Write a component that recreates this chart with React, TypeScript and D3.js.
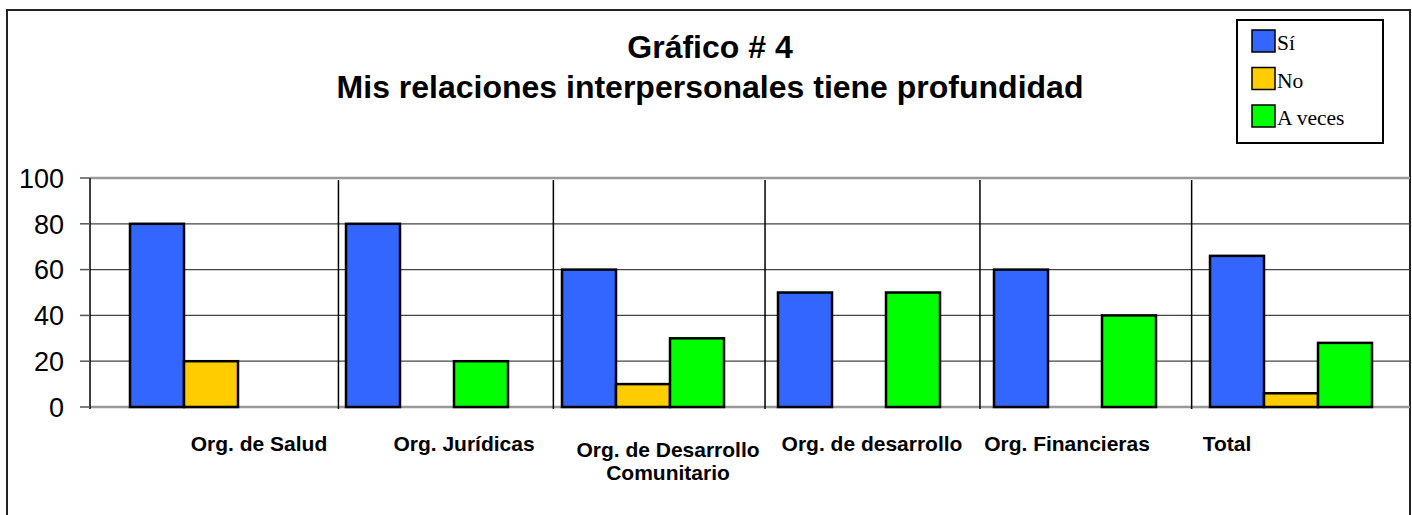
import React from 'react'
import * as d3 from 'd3'

const categories = ['Org. de Salud', 'Org. Jurídicas', 'Org. de Desarrollo Comunitario', 'Org. de desarrollo', 'Org. Financieras', 'Total']
const labelLines = [['Org. de Salud'], ['Org. Jurídicas'], ['Org. de Desarrollo', 'Comunitario'], ['Org. de desarrollo'], ['Org. Financieras'], ['Total']]
const seriesNames = ['Sí', 'No', 'A veces']
const si = [80, 80, 60, 50, 60, 66]
const no = [20, 0, 10, 0, 0, 6]
const aVeces = [0, 20, 30, 50, 40, 28]
const yTicks = [0, 20, 40, 60, 80, 100]
const titleLines = ['Gráfico # 4', 'Mis relaciones interpersonales tiene profundidad']

// hand drawn separators, in category units
const dividerAt = [1.09, 2.085, 3.065, 4.06, 5.04]
// label shift from the band centre
const labelNudge = [48, 37, 25, 13, -8, -64]

const colors = ['#3366ff', '#ffcc00', '#00ff00']

export default function App() {
  const width = 1412
  const height = 515
  const plotLeft = 90
  const plotRight = 1410
  const y0 = 407
  const y100 = 178

  const x0 = d3.scaleBand().domain(categories).range([103, 1399]).paddingInner(0).paddingOuter(0)
  const x1 = d3.scaleBand().domain(seriesNames).range([0, x0.bandwidth()]).paddingInner(0).paddingOuter(0.5)
  const y = d3.scaleLinear().domain([0, 100]).range([y0, y100])
  const xi = d3.scaleLinear().domain([0, 6]).range([103, 1399])

  const series = [si, no, aVeces]
  const sans = '"Liberation Sans", Arial, sans-serif'
  const serif = '"Liberation Serif", "Times New Roman", serif'

  return (
    <svg width={width} height={height} style={{ position: 'fixed', left: 0, top: 0, background: 'white' }}>
      {/* outer frame */}
      <rect x={7} y={10} width={1403} height={520} fill="white" stroke="#222" strokeWidth={2} />

      {/* title */}
      <g fontFamily={sans} fontWeight="bold" fontSize={32} textAnchor="middle" fill="black">
        <text x={710} y={58}>{titleLines[0]}</text>
        <text x={710} y={98}>{titleLines[1]}</text>
      </g>

      {/* grid */}
      {yTicks.map(t => (
        <line key={'g' + t} x1={plotLeft} x2={plotRight} y1={y(t)} y2={y(t)}
          stroke={t === 0 || t === 100 ? '#999' : '#444'} strokeWidth={t === 0 || t === 100 ? 2.5 : 1.2} />
      ))}

      {/* separators */}
      {dividerAt.map((d, i) => (
        <line key={'d' + i} x1={xi(d)} x2={xi(d)} y1={y100 + 2} y2={y0 + 2} stroke="black" strokeWidth={1.5} />
      ))}

      {/* bars */}
      {categories.map((c, ci) => (
        <g key={c} transform={`translate(${x0(c)},0)`}>
          {series.map((s, si2) => s[ci] > 0 ? (
            <rect key={si2} x={x1(seriesNames[si2])} y={y(s[ci])} width={x1.bandwidth()} height={y0 - y(s[ci])}
              fill={colors[si2]} stroke="black" strokeWidth={2.5} />
          ) : null)}
        </g>
      ))}

      {/* y axis */}
      <line x1={plotLeft} x2={plotLeft} y1={y100} y2={y0 + 2} stroke="black" strokeWidth={1.5} />
      {yTicks.map(t => (
        <g key={'t' + t}>
          <line x1={80} x2={plotLeft} y1={y(t)} y2={y(t)} stroke="#555" strokeWidth={1.5} />
          <text x={64} y={y(t)} dy="0.36em" textAnchor="end" fontFamily={sans} fontSize={27} fill="black">{t}</text>
        </g>
      ))}

      {/* category labels */}
      {categories.map((c, ci) => {
        const lines = labelLines[ci]
        const cx = (x0(c) as number) + x0.bandwidth() / 2 + labelNudge[ci]
        return (
          <text key={'l' + c} x={cx} textAnchor="middle" fontFamily={sans} fontWeight="bold" fontSize={21} fill="black">
            {lines.map((ln, li) => (
              <tspan key={li} x={cx} y={(lines.length > 1 ? 457 : 451) + li * 23}>{ln}</tspan>
            ))}
          </text>
        )
      })}

      {/* legend */}
      <rect x={1237} y={20} width={146} height={123} fill="white" stroke="black" strokeWidth={2} />
      {seriesNames.map((n, i) => (
        <g key={n}>
          <rect x={1252} y={30 + i * 37.5} width={23} height={22} fill={colors[i]} stroke="black" strokeWidth={1.5} />
          <text x={1277} y={50 + i * 37.5} fontFamily={serif} fontSize={21.5} fill="black">{n}</text>
        </g>
      ))}
    </svg>
  )
}
